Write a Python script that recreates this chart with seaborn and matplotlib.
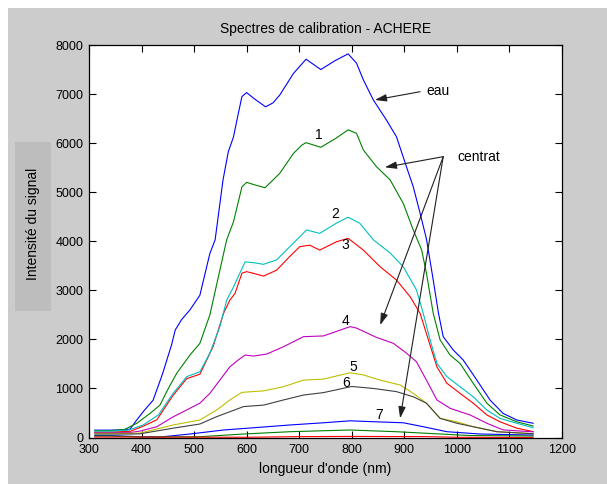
import numpy as np
import pandas as pd
import seaborn as sns
import matplotlib
matplotlib.use("Agg")
import matplotlib.pyplot as plt
from matplotlib.patches import Rectangle

# 1. DONNEES
eau_nm = [311, 340, 365, 378, 391, 405, 422, 440, 457, 464, 476, 492, 511, 521, 530, 540, 555, 565, 575, 584,
          591, 600, 615, 636, 650, 663, 689, 713, 741, 768, 793, 809, 822, 841, 866, 885, 904, 917, 930, 942,
          955, 965, 974, 993, 1012, 1038, 1063, 1088, 1114, 1145]
eau_int = [150, 150, 155, 170, 360, 550, 760, 1300, 1885, 2190, 2400, 2600, 2900, 3350, 3750, 4030, 5250, 5820, 6130, 6600,
           6950, 7030, 6900, 6740, 6820, 6980, 7420, 7710, 7500, 7680, 7820, 7630, 7290, 6880, 6470, 6130, 5520, 5110, 4570, 4050,
           3210, 2530, 2055, 1785, 1580, 1170, 765, 490, 357, 290]

c1_nm = [311, 340, 368, 391, 416, 435, 450, 467, 492, 511, 530, 549, 562, 575, 591, 600, 615, 635, 663, 689, 705, 713,
         741, 770, 793, 809, 822, 847, 873, 898, 917, 933, 942, 955, 968, 987, 1006, 1031, 1057, 1082, 1114, 1145]
c1_int = [140, 140, 165, 290, 490, 660, 980, 1310, 1680, 1920, 2500, 3410, 4030, 4400, 5110, 5200, 5150, 5090, 5385, 5790, 5960, 6010,
          5915, 6100, 6270, 6200, 5860, 5520, 5250, 4770, 4230, 3820, 3350, 2530, 1990, 1680, 1510, 1105, 700, 460, 320, 235]

c2_nm = [311, 340, 375, 403, 432, 460, 486, 511, 530, 549, 562, 575, 584, 597, 615, 632, 657, 682, 701, 714, 739, 771,
         793, 815, 841, 873, 898, 923, 936, 949, 962, 981, 1006, 1031, 1057, 1082, 1114, 1145]
c2_int = [130, 130, 150, 255, 460, 900, 1240, 1340, 1720, 2260, 2800, 3070, 3280, 3580, 3560, 3530, 3620, 3890, 4090, 4230, 4160, 4370,
          4490, 4370, 4030, 3760, 3480, 3010, 2530, 1990, 1510, 1240, 1035, 830, 560, 390, 290, 200]

c3_nm = [311, 340, 378, 403, 429, 460, 486, 511, 536, 556, 568, 578, 591, 600, 615, 632, 657, 682, 701, 720, 739, 771,
         793, 822, 854, 885, 911, 930, 942, 962, 981, 1006, 1031, 1057, 1082, 1114, 1145]
c3_int = [110, 110, 125, 230, 360, 860, 1200, 1290, 1850, 2530, 2800, 2940, 3350, 3380, 3340, 3290, 3410, 3690, 3890, 3920, 3820, 3990,
          4060, 3820, 3480, 3210, 2870, 2530, 2120, 1440, 1105, 900, 700, 460, 320, 190, 120]

c4_nm = [311, 340, 380, 397, 429, 460, 492, 511, 530, 549, 568, 584, 597, 613, 638, 670, 708, 746, 797, 809, 847, 879,
         904, 923, 942, 962, 987, 1025, 1057, 1088, 1145]
c4_int = [100, 100, 105, 130, 220, 420, 595, 700, 900, 1170, 1440, 1580, 1680, 1660, 1700, 1850, 2055, 2070, 2260, 2230, 2040, 1920,
          1720, 1545, 1170, 765, 595, 460, 290, 155, 115]

c5_nm = [311, 340, 380, 397, 460, 511, 543, 568, 591, 632, 670, 708, 746, 797, 822, 854, 892, 917, 942, 968, 1000, 1031, 1076, 1145]
c5_int = [85, 85, 85, 90, 255, 357, 560, 764, 920, 950, 1035, 1170, 1190, 1320, 1275, 1170, 1070, 900, 700, 390, 320, 220, 118, 77]

c6_nm = [311, 340, 380, 397, 460, 511, 543, 568, 594, 632, 670, 708, 746, 800, 841, 885, 917, 942, 968, 1000, 1031, 1076, 1145]
c6_int = [70, 70, 70, 75, 190, 275, 425, 525, 630, 660, 765, 865, 915, 1040, 1000, 935, 830, 700, 390, 290, 220, 118, 77]

c7_nm = [311, 340, 400, 441, 492, 556, 600, 682, 746, 797, 841, 898, 936, 981, 1044, 1145]
c7_int = [40, 40, 15, 16, 71, 153, 188, 255, 300, 340, 322, 300, 220, 118, 71, 50]

c8_nm = [311, 340, 400, 511, 594, 682, 797, 885, 942, 1025, 1145]
c8_int = [30, 30, 10, 16, 71, 118, 153, 118, 86, 40, 30]

c9_nm = [311, 600, 700, 800, 940, 1000, 1145]
c9_int = [10, 5, 18, 22, 18, 5, 0]

courbes = ["eau", "1", "3", "2", "4", "5", "6", "7", "8", "9"]
couleurs = ["#0000ff", "#008000", "#ff0000", "#00bfbf", "#bf00bf", "#bfbf00", "#404040", "#0000ff", "#008000", "#ff0000"]
nm_all = [eau_nm, c1_nm, c3_nm, c2_nm, c4_nm, c5_nm, c6_nm, c7_nm, c8_nm, c9_nm]
int_all = [eau_int, c1_int, c3_int, c2_int, c4_int, c5_int, c6_int, c7_int, c8_int, c9_int]

# numeros des courbes (position des etiquettes)
num_txt = ["1", "2", "3", "4", "5", "6", "7"]
num_x = [738, 768, 787, 789, 803, 790, 852]
num_y = [6166, 4556, 3924, 2381, 1443, 1105, 459]

# 2. MISE EN FORME
frames = []
for nom, nm, val in zip(courbes, nm_all, int_all):
    frames.append(pd.DataFrame({"nm": nm, "intensite": val, "courbe": nom}))
df = pd.concat(frames, ignore_index=True)

plt.rcParams['font.family'] = ['Liberation Sans', 'DejaVu Sans']

fig = plt.figure(figsize=(6.07, 4.84), dpi=100, facecolor='white')
fig.add_artist(Rectangle((8 / 607, 0), 1, 1 - 8 / 484, transform=fig.transFigure,
                         facecolor='#cccccc', edgecolor='none', zorder=-10))
ax = fig.add_axes([89 / 607, 1 - 437.5 / 484, 473 / 607, 392.5 / 484])
ax.set_facecolor('white')

# 3. TRACE
sns.lineplot(data=df, x="nm", y="intensite", hue="courbe", hue_order=courbes,
             palette=dict(zip(courbes, couleurs)), estimator=None, sort=False,
             lw=0.8, legend=False, ax=ax)

ax.set_xlim(300, 1200)
ax.set_ylim(0, 8000)
ax.set_xticks(np.arange(300, 1201, 100))
ax.set_yticks(np.arange(0, 8001, 1000))
ax.tick_params(direction='in', top=True, right=True, length=5, width=0.8,
               labelsize=9, colors='black')
ax.tick_params(axis='x', pad=5)
ax.tick_params(axis='y', pad=4)
for s in ax.spines.values():
    s.set_color('black')
    s.set_linewidth(0.9)

ax.set_title("Spectres de calibration - ACHERE", fontsize=10, pad=9)
ax.set_xlabel("longueur d'onde (nm)", fontsize=10, labelpad=4)
ax.set_ylabel("")

# etiquette de l'axe y dans un cadre gris
fig.add_artist(Rectangle((15 / 607, 1 - 311 / 484), 36 / 607, 169 / 484, transform=fig.transFigure,
                         facecolor='#bdbdbd', edgecolor='none', zorder=-5))
fig.text(33 / 607, 1 - 224 / 484, "Intensité du signal", rotation=90, ha='center', va='center', fontsize=10)

# annotations
fleche = dict(arrowstyle='-|>,head_length=0.7,head_width=0.22', color='#202020', lw=0.8,
              shrinkA=0, shrinkB=0)
ax.annotate("", xy=(844, 6880), xytext=(930, 7048), arrowprops=fleche)
ax.text(942, 7054, "eau", ha='left', va='center', fontsize=10)
ax.text(1000, 5708, "centrat", ha='left', va='center', fontsize=10)
for cx, cy in [(863, 5507), (854, 2293), (892, 391)]:
    ax.annotate("", xy=(cx, cy), xytext=(974, 5724), arrowprops=fleche)

for t, x, y in zip(num_txt, num_x, num_y):
    ax.text(x, y, t, ha='center', va='center', fontsize=10)

plt.savefig("out.png", dpi=100, facecolor=fig.get_facecolor())
